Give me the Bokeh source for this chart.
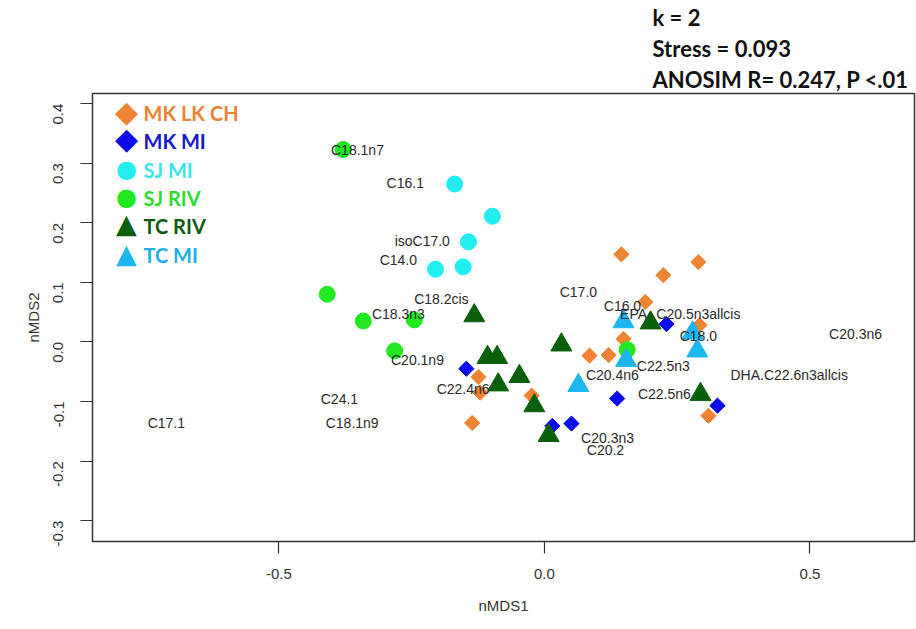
import math
from bokeh.plotting import figure
from bokeh.models import Range1d, FixedTicker, Label, NumeralTickFormatter, ColumnDataSource, Title
from bokeh.embed import file_html
from bokeh.resources import INLINE
from bokeh.core.properties import value

# ---------------- data ----------------
groups = ["MK LK CH", "MK MI", "SJ MI", "SJ RIV", "TC RIV", "TC MI"]

mk_lk_ch_x = [0.145, 0.224, 0.290, 0.190, 0.292, 0.149, 0.085, 0.121, 0.309, -0.124, -0.121, -0.024, -0.136]
mk_lk_ch_y = [0.147, 0.112, 0.134, 0.067, 0.028, 0.005, -0.023, -0.022, -0.124, -0.059, -0.085, -0.090, -0.136]

mk_mi_x = [-0.147, 0.015, 0.051, 0.137, 0.230, 0.326]
mk_mi_y = [-0.045, -0.141, -0.137, -0.095, 0.030, -0.107]

sj_mi_x = [-0.169, -0.098, -0.143, -0.153, -0.205]
sj_mi_y = [0.265, 0.211, 0.168, 0.126, 0.122]

sj_riv_x = [-0.379, -0.409, -0.341, -0.245, -0.282, 0.156]
sj_riv_y = [0.323, 0.080, 0.035, 0.037, -0.015, -0.013]

tc_riv_x = [-0.132, -0.107, -0.089, -0.087, -0.047, -0.019, 0.008, 0.032, 0.200, 0.294]
tc_riv_y = [0.044, -0.026, -0.026, -0.072, -0.058, -0.107, -0.157, -0.005, 0.032, -0.088]

tc_mi_x = [0.149, 0.154, 0.064, 0.288, 0.279]
tc_mi_y = [0.034, -0.031, -0.073, -0.015, 0.015]

fa_names = ["C18.1n7", "C16.1", "isoC17.0", "C14.0", "C18.2cis", "C18.3n3", "C20.1n9",
            "C24.1", "C18.1n9", "C22.4n6", "C17.1", "C17.0", "C16.0", "EPA",
            "C20.5n3allcis", "C18.0", "C20.3n6", "C22.5n3", "C20.4n6",
            "DHA.C22.6n3allcis", "C22.5n6", "C20.3n3", "C20.2"]
fa_x = [-0.352, -0.262, -0.230, -0.275, -0.194, -0.275, -0.239,
        -0.386, -0.362, -0.153, -0.712, 0.064, 0.147, 0.168,
        0.290, 0.290, 0.586, 0.224, 0.128,
        0.461, 0.226, 0.119, 0.115]
fa_y = [0.323, 0.266, 0.169, 0.137, 0.072, 0.047, -0.030,
        -0.095, -0.136, -0.079, -0.136, 0.084, 0.060, 0.047,
        0.047, 0.010, 0.013, -0.040, -0.055,
        -0.055, -0.087, -0.162, -0.181]

x_ticks = [-0.5, 0.0, 0.5]
y_ticks = [-0.3, -0.2, -0.1, 0.0, 0.1, 0.2, 0.3, 0.4]

stats_lines = ["k = 2", "Stress = 0.093", "ANOSIM R= 0.247, P <.01"]

# ---------------- style ----------------
c_orange = "#EE8433"
c_blue = "#0A0AEB"
c_cyan = "#22EEF0"
c_green = "#22E822"
c_dkgreen = "#0A5F0A"
c_sky = "#1CB6F2"

text_c = {"MK LK CH": "#EA8236", "MK MI": "#1818C8", "SJ MI": "#3BE3EE",
          "SJ RIV": "#33D933", "TC RIV": "#0E5A0E", "TC MI": "#22AFEA"}

p = figure(width=916, height=629, output_backend="svg", toolbar_location=None,
           x_range=Range1d(-0.851, 0.697), y_range=Range1d(-0.335, 0.417),
           min_border_left=92, min_border_right=2, min_border_top=92, min_border_bottom=88,
           background_fill_color="white", border_fill_color="white")
p.xgrid.visible = False
p.ygrid.visible = False
p.outline_line_color = "#333333"
p.outline_line_width = 1.5

for ax in (p.xaxis[0], p.yaxis[0]):
    ax.axis_line_color = None
    ax.major_tick_in = 0
    ax.major_tick_out = 12
    ax.major_tick_line_color = "#333333"
    ax.major_tick_line_width = 1.2
    ax.minor_tick_line_color = None
    ax.major_label_text_font = "Liberation Sans"
    ax.major_label_text_font_size = "15px"
    ax.major_label_text_color = "#333333"
    ax.axis_label_text_font = "Liberation Sans"
    ax.axis_label_text_font_size = "15px"
    ax.axis_label_text_font_style = "normal"
    ax.axis_label_text_color = "#333333"
    ax.formatter = NumeralTickFormatter(format="0.0")

p.xaxis[0].ticker = FixedTicker(ticks=x_ticks)
p.yaxis[0].ticker = FixedTicker(ticks=y_ticks)
p.xaxis[0].axis_label = "nMDS1"
p.yaxis[0].axis_label = "nMDS2"
p.xaxis[0].major_label_standoff = 15
p.xaxis[0].axis_label_standoff = 15
p.yaxis[0].major_label_orientation = math.pi / 2
p.yaxis[0].major_label_standoff = 22
p.yaxis[0].axis_label_standoff = 4

# points
p.scatter(mk_lk_ch_x, mk_lk_ch_y, marker="square", size=10.8, angle=math.pi / 4,
          fill_color=c_orange, line_color=c_orange)
p.scatter(mk_mi_x, mk_mi_y, marker="square", size=10.8, angle=math.pi / 4,
          fill_color=c_blue, line_color=c_blue)
p.scatter(sj_mi_x, sj_mi_y, marker="circle", size=16, fill_color=c_cyan, line_color=c_cyan)
p.scatter(sj_riv_x, sj_riv_y, marker="circle", size=16, fill_color=c_green, line_color=c_green)
p.scatter(tc_riv_x, tc_riv_y, marker="triangle", size=21, fill_color=c_dkgreen, line_color=c_dkgreen)
p.scatter(tc_mi_x, tc_mi_y, marker="triangle", size=21, fill_color=c_sky, line_color=c_sky)

# fatty acid vector labels
src = ColumnDataSource(dict(x=fa_x, y=fa_y, t=fa_names))
p.text(x="x", y="y", text="t", source=src, text_align="center", text_baseline="middle",
       text_font=value("Liberation Sans"), text_font_size="14px", text_color="#2a2a2a")

# legend (manual, colored texts)
leg_sym = ["\u25C6", "\u25C6", "\u25CF", "\u25CF", "\u25B2", "\u25B2"]
leg_sym_col = [c_orange, c_blue, c_cyan, c_green, c_dkgreen, c_sky]
leg_sym_size = ["30px", "30px", "24px", "24px", "27px", "27px"]
leg_key_y = [430, 403, 373, 345, 318, 288]
leg_txt_y = [429, 401, 372, 344, 316, 287]
for g, s, col, fs, ky, ty in zip(groups, leg_sym, leg_sym_col, leg_sym_size, leg_key_y, leg_txt_y):
    p.add_layout(Label(x=34, y=ky, x_units="screen", y_units="screen", text=s,
                       text_color=col, text_font="DejaVu Sans", text_font_size=fs,
                       text_align="center", text_baseline="middle"))
    p.add_layout(Label(x=51, y=ty, x_units="screen", y_units="screen", text=g,
                       text_color=text_c[g], text_font="Lato", text_font_size="20px",
                       text_font_style="bold", text_align="left", text_baseline="middle"))

# stats text above the plot (stacked titles, nearest to the frame first)
for line in reversed(stats_lines):
    p.add_layout(Title(text=line, align="left", offset=560, text_color="#111111",
                       text_font="Lato", text_font_size="22px", text_font_style="bold",
                       standoff=2), "above")

open("out.html", "w").write(file_html(p, INLINE))
